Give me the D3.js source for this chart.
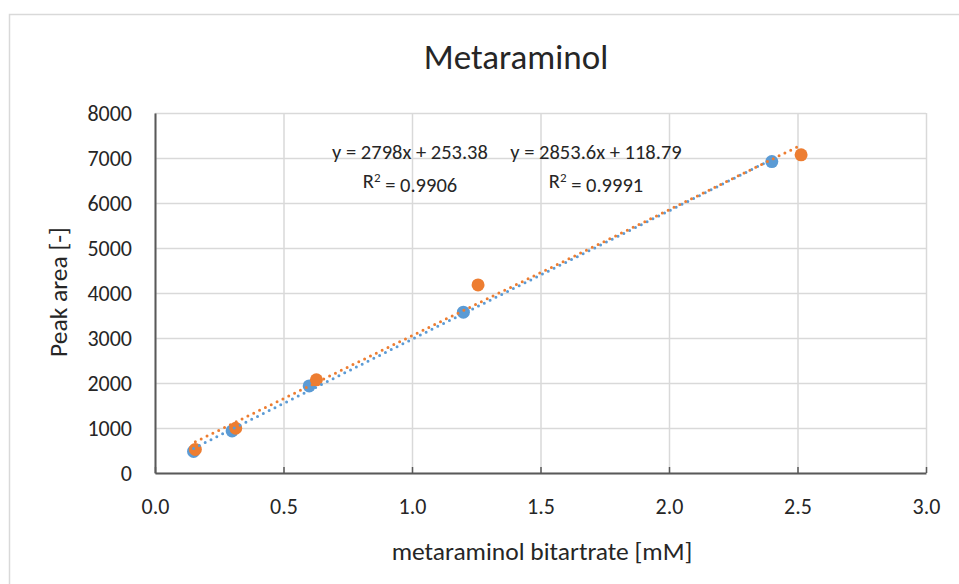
<!DOCTYPE html>
<html>
<head>
<meta charset="utf-8">
<script src="https://cdn.jsdelivr.net/npm/d3@7"></script>
<style>
  body { margin: 0; background: #fff; }
  svg { display: block; font-family: Calibri, Carlito, Lato, sans-serif; }
  .grid line { stroke: #d9d9d9; stroke-width: 1.5; }
  .grid path { display: none; }
</style>
</head>
<body>
<svg width="959" height="584"></svg>
<script>
// data
const xBlue = [0.15, 0.30, 0.60, 1.20, 2.40];
const yBlue = [480, 935, 1935, 3575, 6920];
const xOrange = [0.157, 0.314, 0.628, 1.257, 2.514];
const yOrange = [525, 995, 2070, 4180, 7070];

// trendlines as printed on the chart
const trendNames = ["blue", "orange"];
const slopes = [2853.6, 2798];
const intercepts = [118.79, 253.38];
const eqLabels = ["y = 2853.6x + 118.79", "y = 2798x + 253.38"];
const r2Labels = ["0.9991", "0.9906"];

const xTicks = [0, 0.5, 1, 1.5, 2, 2.5, 3];
const yTicks = [0, 1000, 2000, 3000, 4000, 5000, 6000, 7000, 8000];

const svg = d3.select("svg"),
      margin = {top: 113, right: 33, bottom: 111, left: 155},
      width = 959 - margin.left - margin.right,
      height = 584 - margin.top - margin.bottom;

const color = d3.scaleOrdinal().domain(trendNames).range(["#5b9bd5", "#ed7d31"]);

// chart frame
svg.append("rect")
  .attr("x", 9.5).attr("y", 14.5)
  .attr("width", 980).attr("height", 600)
  .attr("fill", "#fff")
  .attr("stroke", "#d9d9d9")
  .attr("stroke-width", 1.5);

const g = svg.append("g").attr("transform", `translate(${margin.left},${margin.top})`);

const x = d3.scaleLinear().domain([0, 3]).range([0, width]);
const y = d3.scaleLinear().domain([0, 8000]).range([height, 0]);

// gridlines
g.append("g").attr("class", "grid")
  .call(d3.axisLeft(y).tickValues(yTicks).tickSize(-width).tickFormat(""));
g.append("g").attr("class", "grid")
  .attr("transform", `translate(0,${height})`)
  .call(d3.axisBottom(x).tickValues(xTicks).tickSize(-height).tickFormat(""));

// axes
const xAxis = g.append("g")
  .attr("transform", `translate(0,${height})`)
  .call(d3.axisBottom(x).tickValues(xTicks).tickSizeInner(-6).tickSizeOuter(0).tickPadding(25).tickFormat(d3.format(".1f")));
const yAxis = g.append("g")
  .call(d3.axisLeft(y).tickValues(yTicks).tickSize(0).tickPadding(23).tickFormat(d3.format("d")));

[xAxis, yAxis].forEach(a => {
  a.select(".domain").attr("stroke", "#595959").attr("stroke-width", 2);
  a.selectAll(".tick line").attr("stroke", "#595959").attr("stroke-width", 1.5);
  a.selectAll("text")
    .attr("fill", "#262626")
    .style("font-size", "22px")
    .style("font-family", "Calibri, Carlito, Lato, sans-serif");
});
yAxis.selectAll("text").attr("dy", "0.36em");

// markers
const series = [
  {name: "blue", xs: xBlue, ys: yBlue},
  {name: "orange", xs: xOrange, ys: yOrange}
];

series.forEach(s => {
  g.append("g")
    .selectAll("circle")
    .data(s.xs.map((v, i) => [v, s.ys[i]]))
    .join("circle")
    .attr("cx", d => x(d[0]))
    .attr("cy", d => y(d[1]))
    .attr("r", 6.5)
    .attr("fill", color(s.name));
});

// dotted linear trendlines from first to last x
series.forEach((s, i) => {
  const x0 = d3.min(s.xs), x1 = d3.max(s.xs);
  g.append("line")
    .attr("x1", x(x0)).attr("y1", y(slopes[i] * x0 + intercepts[i]))
    .attr("x2", x(x1)).attr("y2", y(slopes[i] * x1 + intercepts[i]))
    .attr("stroke", color(s.name))
    .attr("stroke-width", 3)
    .attr("stroke-linecap", "round")
    .attr("stroke-dasharray", "0 6.5");
});

// equation labels
const eqPos = [[596, 152], [410, 152]];
eqLabels.forEach((t, i) => {
  const lab = svg.append("text")
    .attr("text-anchor", "middle")
    .attr("fill", "#262626")
    .style("font-size", "20.5px");
  lab.append("tspan").attr("x", eqPos[i][0]).attr("y", eqPos[i][1]).attr("dy", "0.35em").text(t);
  const l2 = lab.append("tspan").attr("x", eqPos[i][0]).attr("y", eqPos[i][1] + 29).attr("dy", "0.35em");
  l2.append("tspan").text("R");
  l2.append("tspan").attr("dy", "-0.45em").style("font-size", "13px").text("2");
  l2.append("tspan").attr("dy", "0.45em").text(" = " + r2Labels[i]);
});

// title
svg.append("text")
  .attr("x", 516).attr("y", 69)
  .attr("text-anchor", "middle")
  .attr("fill", "#262626")
  .style("font-size", "35px")
  .text("Metaraminol");

// axis titles
svg.append("text")
  .attr("x", 542).attr("y", 560)
  .attr("text-anchor", "middle")
  .attr("fill", "#262626")
  .style("font-size", "25.5px")
  .text("metaraminol bitartrate [mM]");

svg.append("text")
  .attr("transform", "rotate(-90)")
  .attr("x", -292).attr("y", 67)
  .attr("text-anchor", "middle")
  .attr("fill", "#262626")
  .style("font-size", "25.5px")
  .text("Peak area [-]");
</script>
</body>
</html>
